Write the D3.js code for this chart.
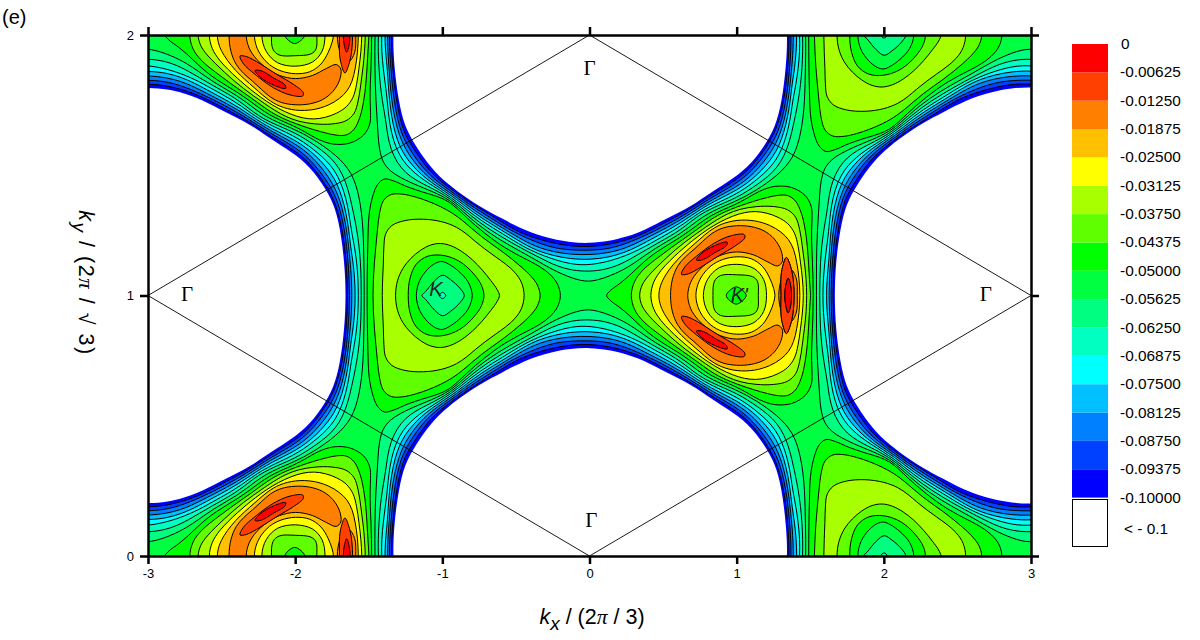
<!DOCTYPE html>
<html>
<head>
<meta charset="utf-8">
<script src="https://cdn.jsdelivr.net/npm/d3@7"></script>
<style>
  body { margin: 0; background: #fff; }
  text { font-family: "Liberation Sans", Arial, sans-serif; fill: #000; }
</style>
</head>
<body>
<svg id="chart" width="1200" height="640"></svg>
<script>
const levels = [-0.1, -0.09375, -0.0875, -0.08125, -0.075, -0.06875, -0.0625, -0.05625,
    -0.05, -0.04375, -0.0375, -0.03125, -0.025, -0.01875, -0.0125, -0.00625];
const bandColors = ["#0000ff", "#0040ff", "#0080ff", "#00c0ff", "#00ffff", "#00ffc0", "#00ff80", "#00ff40",
    "#00ff00", "#60ff00", "#a8ff00", "#ffff00", "#ffc000", "#ff8000", "#ff4000", "#ff0000"];
const legendLabels = ["-0.10000", "-0.09375", "-0.08750", "-0.08125", "-0.07500", "-0.06875", "-0.06250", "-0.05625",
    "-0.05000", "-0.04375", "-0.03750", "-0.03125", "-0.02500", "-0.01875", "-0.01250", "-0.00625", "0"];

const xTicks = [-3, -2, -1, 0, 1, 2, 3];
const yTicks = [0, 1, 2];

// band energy, one cell of the pattern:
// kx from -3 to -0.125 (step 0.125), ky from 0 to 1 (step 0.0625). -0.2 = anywhere in the white area
const fieldRows = [
    [-.052,-.0497,-.0441,-.0326,-.0203,-.0145,-.0297,-.0427,-.047,-.0421,-.0255,-.008,-.0435,-.081,-.139,-.2,-.2,-.2,-.2,-.2,-.2,-.2,-.2,-.2],
    [-.0568,-.0548,-.0499,-.0385,-.026,-.0135,-.0242,-.0385,-.0423,-.0375,-.0225,-.012,-.0452,-.0775,-.139,-.2,-.2,-.2,-.2,-.2,-.2,-.2,-.2,-.2],
    [-.07,-.0665,-.0602,-.048,-.0365,-.0165,-.0085,-.0285,-.03,-.028,-.016,-.0205,-.0468,-.0745,-.1355,-.2,-.2,-.2,-.2,-.2,-.2,-.2,-.2,-.2],
    [-.0935,-.0894,-.0818,-.0678,-.051,-.0345,-.0175,-.0075,-.0125,-.016,-.015,-.0235,-.0478,-.0715,-.1275,-.18,-.2,-.2,-.2,-.2,-.2,-.2,-.2,-.2],
    [-.125,-.1183,-.1116,-.0983,-.0785,-.061,-.0395,-.0155,-.015,-.016,-.0245,-.0295,-.0488,-.068,-.12,-.165,-.2,-.2,-.2,-.2,-.2,-.2,-.2,-.2],
    [-.16,-.155,-.145,-.128,-.1125,-.0935,-.063,-.045,-.033,-.0273,-.0325,-.037,-.0499,-.064,-.1055,-.145,-.2,-.2,-.2,-.2,-.2,-.2,-.2,-.2],
    [-.2,-.2,-.18,-.16,-.15,-.14,-.1062,-.0775,-.062,-.0458,-.0433,-.0432,-.0505,-.061,-.0955,-.1265,-.18,-.2,-.2,-.2,-.2,-.2,-.2,-.2],
    [-.2,-.2,-.2,-.2,-.19,-.18,-.15,-.111,-.0905,-.0675,-.0525,-.0505,-.0515,-.0595,-.0795,-.109,-.15,-.2,-.2,-.2,-.2,-.2,-.2,-.2],
    [-.2,-.2,-.2,-.2,-.2,-.2,-.19,-.15,-.1195,-.0885,-.0665,-.054,-.052,-.0572,-.066,-.0918,-.118,-.15,-.2,-.2,-.2,-.2,-.2,-.2],
    [-.2,-.2,-.2,-.2,-.2,-.2,-.2,-.19,-.16,-.114,-.0788,-.0575,-.0515,-.0485,-.0545,-.0665,-.0965,-.125,-.15,-.2,-.2,-.2,-.2,-.2],
    [-.2,-.2,-.2,-.2,-.2,-.2,-.2,-.2,-.2,-.15,-.0935,-.061,-.0512,-.0425,-.0423,-.0445,-.0488,-.088,-.125,-.13,-.15,-.18,-.19,-.19],
    [-.2,-.2,-.2,-.2,-.2,-.2,-.2,-.2,-.2,-.16,-.112,-.0655,-.0508,-.0398,-.0383,-.039,-.0403,-.046,-.0802,-.1035,-.117,-.14,-.15,-.155],
    [-.2,-.2,-.2,-.2,-.2,-.2,-.2,-.2,-.2,-.2,-.1235,-.0695,-.0495,-.0376,-.0352,-.0345,-.034,-.0374,-.047,-.0688,-.0937,-.1045,-.113,-.12],
    [-.2,-.2,-.2,-.2,-.2,-.2,-.2,-.2,-.2,-.2,-.132,-.075,-.0485,-.0362,-.0345,-.0372,-.0384,-.0362,-.0366,-.0445,-.0585,-.0795,-.0875,-.0925],
    [-.2,-.2,-.2,-.2,-.2,-.2,-.2,-.2,-.2,-.2,-.1365,-.0805,-.0478,-.035,-.0365,-.0478,-.0501,-.0438,-.0355,-.0345,-.0435,-.0497,-.0622,-.0695],
    [-.2,-.2,-.2,-.2,-.2,-.2,-.2,-.2,-.2,-.2,-.14,-.0835,-.047,-.0345,-.0401,-.0525,-.0581,-.0535,-.0425,-.0352,-.0355,-.0445,-.0499,-.0555],
    [-.2,-.2,-.2,-.2,-.2,-.2,-.2,-.2,-.2,-.2,-.145,-.0846,-.0465,-.034,-.0419,-.0567,-.064,-.058,-.0481,-.0377,-.034,-.0403,-.0468,-.0512]
];

// the small lobes are too narrow for that grid, so they are traced as [kx, ky] rings
const lobeOuter = [[-2.375,.081],[-2.352,.11],[-2.273,.151],[-2.149,.202],[-2.035,.23],[-1.949,.234],[-1.945,.221],
    [-2.013,.189],[-2.126,.151],[-2.239,.11],[-2.33,.083]];
const lobeInner = [[-2.273,.136],[-2.239,.161],[-2.16,.189],[-2.065,.205],[-2.069,.192],[-2.149,.164],[-2.228,.138]];
const edgeLobeOuter = [[-1.662,.146],[-1.628,.1],[-1.614,.05],[-1.61,0],[-1.614,-.05],[-1.628,-.1],[-1.662,-.146],
    [-1.692,-.1],[-1.7,-.05],[-1.698,0],[-1.7,.05],[-1.692,.1]];
const edgeLobeInner = [[-1.65,.066],[-1.634,.04],[-1.627,0],[-1.634,-.04],[-1.65,-.066],[-1.666,-.04],[-1.673,0],[-1.666,.04]];

const zoneCorners = [[0, 2], [-3, 1], [0, 0], [3, 1], [0, 2]];
const gammaLabels = [[-2.735, .979], [2.693, .979], [0, 1.846], [.012, .111]];

const svg = d3.select("#chart");
const margin = {top: 35, right: 169, bottom: 84, left: 148};
const xScale = d3.scaleLinear().domain([-3, 3]).range([margin.left, 1200 - margin.right]);
const yScale = d3.scaleLinear().domain([0, 2]).range([640 - margin.bottom, margin.top]);

svg.append("clipPath").attr("id", "plot-clip").append("rect")
    .attr("x", xScale(-3)).attr("y", yScale(2))
    .attr("width", xScale(3) - xScale(-3)).attr("height", yScale(0) - yScale(2));

// the picture repeats under (kx, ky) -> (kx + 3, 1 - ky) and ky -> 2 - ky, so the one cell covers the plot
// pad adds a few rows outside the frame so smoothed contours don't pull away from it
const pad = 3;
const nx = 48 + 1 + 2 * pad;
const ny = 32 + 1 + 2 * pad;
const stepX = 0.125, stepY = 0.0625;

function cellValue(col, row) {
    let r = ((row % 32) + 32) % 32;
    if (r > 16) r = 32 - r;
    const c = ((col % 48) + 48) % 48;
    return c < 24 ? fieldRows[r][c] : fieldRows[16 - r][c - 24];
}

const values = new Array(nx * ny);
for (let j = 0; j < ny; j++) {
    for (let i = 0; i < nx; i++) {
        values[i + j * nx] = cellValue(i - pad, j - pad);
    }
}

const toPixel = p => [
    xScale(-3 + (p[0] - 0.5 - pad) * stepX),
    yScale((p[1] - 0.5 - pad) * stepY)
];

// one smoothing step on a closed ring, factor > 0 pulls in, factor < 0 pushes back out
function ringStep(pts, factor) {
    return pts.map((p, i) => {
        const a = pts[(i - 1 + pts.length) % pts.length];
        const b = pts[(i + 1) % pts.length];
        return [p[0] + factor * ((a[0] + b[0]) / 2 - p[0]), p[1] + factor * ((a[1] + b[1]) / 2 - p[1])];
    });
}

// rounds off the cell-sized corners marching squares leaves, without shrinking the ring
function relaxRing(pts) {
    let out = pts;
    const passes = pts.length < 14 ? 1 : 6;
    for (let k = 0; k < passes; k++) {
        out = ringStep(ringStep(out, 0.5), -0.53);
    }
    return out;
}

const smoothRing = d3.line().curve(d3.curveCatmullRomClosed.alpha(0.5));
const contours = d3.contours().size([nx, ny]);

const plot = svg.append("g").attr("clip-path", "url(#plot-clip)");

// only the levels the grid can carry; the top two come from the lobe rings
levels.slice(0, 14).forEach((level, idx) => {
    const shape = contours.contour(values, level);
    const d = shape.coordinates.map(polygon =>
        polygon.map(ring => smoothRing(relaxRing(ring.slice(0, -1).map(toPixel)))).join("")).join("");
    plot.append("path")
        .attr("d", d)
        .attr("fill", bandColors[idx])
        .attr("fill-rule", "evenodd")
        .attr("stroke", idx === 0 ? "none" : "#000")
        .attr("stroke-width", 1);
});

const copies = [
    ([x, y]) => [x, y],
    ([x, y]) => [x, 2 - y],
    ([x, y]) => [x + 3, 1 - y],
    ([x, y]) => [x + 3, 1 + y]
];
const lobeLine = d3.line().x(d => xScale(d[0])).y(d => yScale(d[1])).curve(d3.curveCatmullRomClosed.alpha(0.5));
[[lobeOuter, bandColors[14]], [lobeInner, bandColors[15]], [edgeLobeOuter, bandColors[14]], [edgeLobeInner, bandColors[15]]]
    .forEach(([ring, color]) => {
        copies.forEach(copy => {
            plot.append("path")
                .attr("d", lobeLine(ring.map(copy)))
                .attr("fill", color)
                .attr("stroke", "#000")
                .attr("stroke-width", 1);
        });
    });

// first Brillouin zone
svg.append("path")
    .attr("d", d3.line().x(d => xScale(d[0])).y(d => yScale(d[1]))(zoneCorners))
    .attr("fill", "none")
    .attr("stroke", "#000")
    .attr("stroke-width", 0.9);

svg.selectAll(".gamma").data(gammaLabels).enter().append("text")
    .attr("class", "gamma")
    .attr("x", d => xScale(d[0]))
    .attr("y", d => yScale(d[1]))
    .attr("text-anchor", "middle")
    .style("font-family", "'Liberation Serif', serif")
    .style("font-size", "21px")
    .text("Γ");

svg.append("text").attr("x", xScale(-1.044)).attr("y", yScale(.998))
    .attr("text-anchor", "middle").style("font-size", "20px").style("font-style", "italic").style("fill", "#222").text("K");
svg.append("text").attr("x", xScale(1.018)).attr("y", yScale(.975))
    .attr("text-anchor", "middle").style("font-size", "20px").style("font-style", "italic").style("fill", "#222").text("K'");

// axes, ticks point outward on all four sides
function styleAxis(g) {
    g.selectAll(".domain").attr("stroke", "#000").attr("stroke-width", 2.5);
    g.selectAll(".tick line").attr("stroke", "#000").attr("stroke-width", 2.5);
    g.selectAll(".tick text").style("font-size", "13px").style("font-family", "'Liberation Sans', Arial, sans-serif");
}
const xFormat = d => String(d);
svg.append("g").attr("transform", `translate(0,${yScale(0)})`)
    .call(d3.axisBottom(xScale).tickValues(xTicks).tickFormat(xFormat).tickSize(8).tickPadding(5).tickSizeOuter(0)).call(styleAxis);
svg.append("g").attr("transform", `translate(0,${yScale(2)})`)
    .call(d3.axisTop(xScale).tickValues(xTicks).tickFormat("").tickSize(8).tickSizeOuter(0)).call(styleAxis);
svg.append("g").attr("transform", `translate(${xScale(-3)},0)`)
    .call(d3.axisLeft(yScale).tickValues(yTicks).tickFormat(d3.format("d")).tickSize(8).tickPadding(6).tickSizeOuter(0)).call(styleAxis);
svg.append("g").attr("transform", `translate(${xScale(3)},0)`)
    .call(d3.axisRight(yScale).tickValues(yTicks).tickFormat("").tickSize(8).tickSizeOuter(0)).call(styleAxis);

// axis titles
const xTitle = svg.append("text").attr("x", 592).attr("y", 624).attr("text-anchor", "middle").style("font-size", "21.5px");
xTitle.append("tspan").style("font-style", "italic").text("k");
xTitle.append("tspan").style("font-style", "italic").style("font-size", "19px").attr("dy", 6).text("x");
xTitle.append("tspan").attr("dy", -6).text(" / (2");
xTitle.append("tspan").style("font-family", "'Liberation Serif', serif").style("font-style", "italic").text("π");
xTitle.append("tspan").text(" / 3)");

const yTitle = svg.append("text").attr("transform", "translate(79,283) rotate(90)").attr("text-anchor", "middle")
    .style("font-size", "21.5px").style("letter-spacing", "1.5px");
yTitle.append("tspan").style("font-style", "italic").text("k");
yTitle.append("tspan").style("font-style", "italic").style("font-size", "19px").attr("dy", 6).text("y");
yTitle.append("tspan").attr("dy", -6).text(" / (2");
yTitle.append("tspan").style("font-family", "'Liberation Serif', serif").style("font-style", "italic").text("π");
yTitle.append("tspan").text(" / √ 3)");

svg.append("text").attr("x", 2).attr("y", 24).style("font-size", "20px").text("(e)");

// colour key
const keyX = 1072, keyWidth = 36;
const keyScale = d3.scaleLinear().domain([0, 16]).range([497.6, 44]);
svg.selectAll(".key-band").data(bandColors).enter().append("rect")
    .attr("class", "key-band")
    .attr("x", keyX)
    .attr("width", keyWidth)
    .attr("y", (d, i) => keyScale(i + 1))
    .attr("height", (d, i) => keyScale(i) - keyScale(i + 1))
    .attr("fill", d => d);
svg.append("rect").attr("x", keyX + 0.5).attr("y", 499.5).attr("width", keyWidth - 1).attr("height", 47)
    .attr("fill", "#fff").attr("stroke", "#000").attr("stroke-width", 1);
svg.selectAll(".key-label").data(legendLabels).enter().append("text")
    .attr("class", "key-label")
    .attr("x", (d, i) => i === 16 ? 1121 : 1120)
    .attr("y", (d, i) => keyScale(i) + 5)
    .style("font-size", "15.4px")
    .text(d => d);
svg.append("text").attr("x", 1124).attr("y", 534).style("font-size", "15.4px").text("< - 0.1");
</script>
</body>
</html>
